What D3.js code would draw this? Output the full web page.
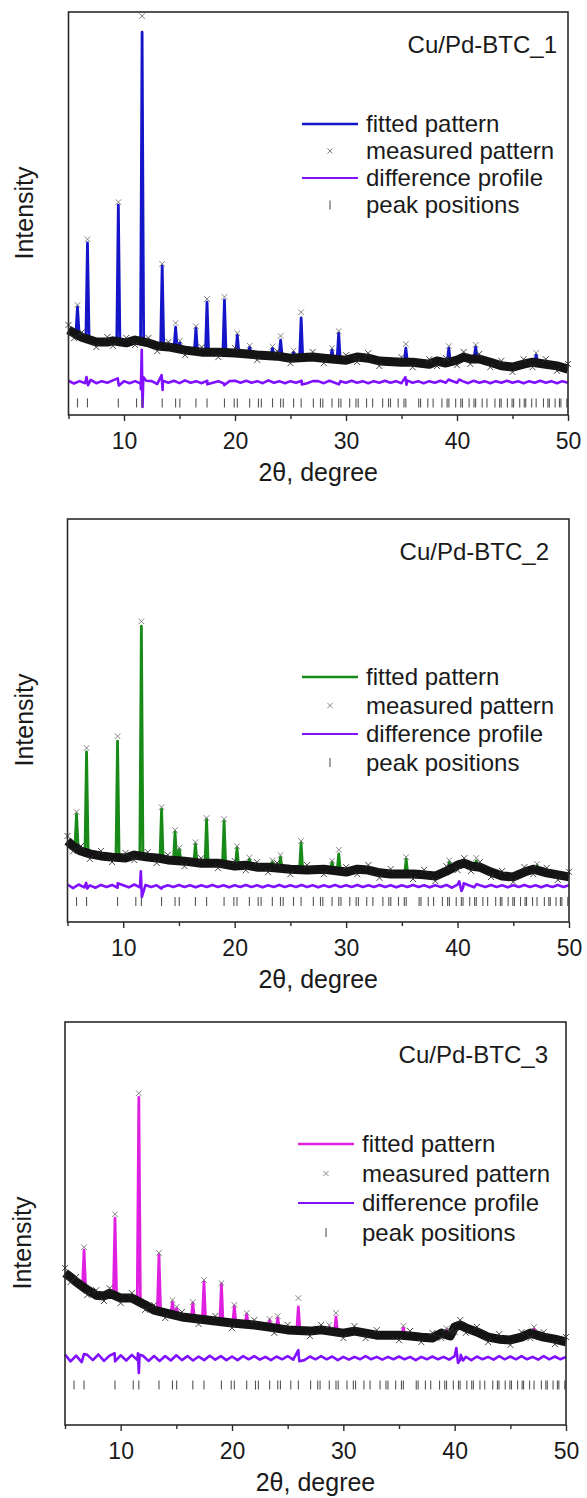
<!DOCTYPE html>
<html>
<head>
<meta charset="utf-8">
<script src="https://cdn.jsdelivr.net/npm/d3@7"></script>
<style>
  body { margin: 0; background: #fff; }
  text { font-family: "Liberation Sans", Arial, sans-serif; fill: #1a1a1a; }
</style>
</head>
<body>
<script>
// ---- data (2theta in degrees, intensity in arbitrary units 0..1000 per panel) ----
var xTicksMajor = [10, 20, 30, 40, 50];
var xTicksMinor = [5, 15, 25, 35, 45];

// calculated reflection positions shown as tick marks
var reflections = [5.81, 6.71, 9.49, 11.13, 11.63, 13.44, 14.65, 15.03, 16.48, 17.48, 19.05, 19.93, 20.21,
  21.32, 22.11, 22.37, 23.38, 24.11, 24.35, 25.28, 25.96, 27.06, 27.70, 27.91, 28.74, 29.34, 29.54,
  30.33, 30.90, 31.10, 31.85, 32.40, 33.30, 33.83, 34.01, 34.70, 35.22, 35.39, 36.55, 36.72, 37.37,
  37.85, 38.64, 39.11, 39.27, 39.88, 40.34, 40.49, 41.09, 41.53, 41.68, 42.27, 42.70, 43.42, 43.84,
  43.98, 44.54, 44.96, 45.10, 45.65, 46.06, 46.19, 46.73, 47.13, 47.79, 48.19, 48.32, 48.84, 49.23,
  49.36, 49.89];

// background of the measured pattern [2theta, I]
var bg1 = [[5.0,211],[5.5,203],[6.2,193],[7.5,181],[8.5,181],[9.0,184],[10.2,179],[11.0,186],[12.2,179],
  [13.0,171],[14.0,169],[15.5,161],[17.0,156],[18.5,156],[20.0,154],[22.0,149],[23.8,146],[25.0,141],
  [27.0,144],[28.0,141],[30.0,136],[31.0,144],[32.0,141],[33.0,134],[35.0,131],[36.0,131],[37.5,126],
  [38.2,134],[39.0,129],[40.0,136],[40.6,144],[41.2,139],[42.0,139],[43.0,131],[44.0,122],[45.0,119],
  [46.0,126],[46.8,131],[48.0,126],[49.0,122],[50.0,114]];
var bg2 = [[5.0,201],[5.5,188],[6.2,176],[7.0,169],[8.0,164],[9.0,161],[10.2,159],[11.0,166],[12.2,161],
  [13.0,159],[14.0,154],[15.5,151],[17.0,146],[18.5,146],[20.0,139],[21.0,141],[22.0,136],[23.0,136],
  [23.8,134],[25.0,131],[26.5,129],[28.0,131],[30.0,124],[31.0,131],[32.0,129],[33.0,122],[34.0,119],
  [36.0,119],[37.0,117],[38.0,114],[39.0,126],[40.0,141],[40.6,146],[41.2,139],[42.0,136],[43.0,124],
  [44.0,114],[45.0,112],[46.0,124],[46.8,131],[48.0,122],[49.0,117],[50.0,112]];
var bg3 = [[5.0,377],[5.5,367],[6.0,355],[7.0,335],[7.8,322],[8.5,320],[9.0,327],[10.0,315],[11.0,315],
  [12.2,298],[13.0,285],[14.0,278],[15.5,268],[17.0,263],[18.5,258],[20.0,253],[22.0,248],[23.8,241],
  [25.0,236],[27.0,233],[28.0,236],[30.0,228],[31.0,233],[32.0,228],[33.0,223],[35.0,223],[36.0,221],
  [37.0,218],[38.0,216],[38.8,228],[39.6,221],[40.0,243],[40.5,248],[41.0,241],[42.0,231],[43.0,218],
  [44.0,213],[45.0,211],[46.0,218],[46.8,228],[48.0,218],[49.0,213],[50.0,206]];

// peaks [2theta, base, fitted top, measured top]
var peaks1 = [[5.81,203,268,273],[6.71,193,427,436],[9.49,183,521,528],[11.63,182,950,990],[13.44,171,370,375],
  [14.65,166,218,228],[15.03,163,179,184],[16.48,158,216,220],[17.48,156,280,288],[19.05,155,285,293],
  [20.21,153,198,203],[21.32,150,169,172],[23.38,147,166,170],[24.11,146,186,196],[25.28,142,156,160],
  [25.96,142,241,255],[28.74,140,161,166],[29.34,138,203,208],[35.39,131,166,176],[39.26,130,166,171],
  [41.68,139,169,174],[47.13,131,149,154]];
var peaks2 = [[5.81,188,268,273],[6.71,176,422,432],[9.49,161,449,461],[11.63,163,734,746],[13.44,159,280,285],
  [14.65,154,223,228],[15.03,152,181,184],[16.48,148,193,198],[17.48,146,255,258],[19.05,145,250,255],
  [20.21,139,184,188],[21.32,140,156,160],[23.38,136,149,153],[24.11,134,161,166],[25.96,130,196,201],
  [28.74,131,149,152],[29.34,128,169,179],[35.39,119,156,161],[39.26,128,149,153],[41.68,138,151,159],
  [47.13,131,141,144]];
var peaks3 = [[6.71,340,434,441],[9.49,322,513,523],[11.63,308,813,823],[13.44,287,422,427],[14.65,275,305,310],
  [15.03,272,290,293],[16.48,265,303,305],[17.48,262,355,360],[19.05,257,350,352],[20.21,253,295,298],
  [21.32,250,275,278],[23.38,243,260,263],[24.11,240,265,270],[25.96,236,293,315],[28.74,235,243,248],
  [29.34,230,268,278],[35.39,223,241,246],[39.26,225,236,240],[47.13,228,238,243]];

// difference profile: offset, values every 0.5 deg from 5 to 50, plus spikes [2theta, value]
var diffStart = 5, diffStep = 0.5;
var diffOffsets = [82, 89, 166];
var diff1 = [3,-4,2,-3,5,-3,2,-2,4,-4, 2,-3,2,-4,3,2,-5,3,-2,3, -3,4,-2,2,-3,3,-2,2,-4,2,
  3,-2,3,-2,2,-3,4,-2,2,-3, 2,-2,3,-3,2,2,-3,3,-2,2, -2,3,-2,2,-3,2,-2,3,-2,2,
  -3,4,-2,2,-3,2,-2,3,-2,3, -2,2,-3,3,-2,2,-3,2,-2,3, -2,2,-3,2,-2,3,-2,2,-3,2, -2];
var diff2 = [4,-5,4,-3,2,-4,3,-2,3,-4, 2,-3,4,-3,3,-2,2,-3,2,-2, 3,-2,2,-3,2,-2,3,-2,2,-3,
  2,-2,3,-2,2,-3,2,-2,3,-2, 2,-2,3,-2,2,-3,2,-2,3,-2, 2,-2,3,-2,2,-2,3,-2,2,-3,
  2,-2,3,-2,2,-3,2,-2,3,-4, 4,-3,2,-3,2,-2,3,-2,2,-3, 2,-2,3,-2,2,-3,2,-2,3,-2, 2];
var diff3 = [9,-8,6,-10,8,-5,9,-7,6,-8, 7,-6,8,-5,6,-7,5,-7,5,-6, 7,-5,5,-6,4,-5,6,-4,5,-5,
  4,-5,5,-3,5,-4,3,-5,4,-3, 5,-4,3,-5,4,-3,5,-3,4,-5, 3,-4,3,-3,5,-3,3,-4,3,-3,
  4,-3,3,-5,3,-3,4,-3,3,-4, 5,-4,3,-5,4,-3,3,-4,5,-3, 4,-3,5,-3,3,-4,5,-3,4,-3, 3];
var spikes1 = [[6.62,12],[6.76,-8],[9.44,9],[9.54,-9],[11.52,-18],[11.6,80],[11.67,-62],[11.74,12],
  [13.39,17],[13.48,-20],[17.5,-6],[19.02,-8],[26.02,-6],[29.36,-6],[35.35,12],[35.45,-7],[39.24,6],[40.2,6]];
var spikes2 = [[6.68,8],[6.76,-6],[9.5,7],[11.58,37],[11.67,-27],[13.44,-6],[40.15,12],[40.35,-12],[40.55,7],[41.7,5]];
var spikes3 = [[6.7,10],[9.46,12],[11.55,12],[11.63,-37],[11.7,8],[25.96,20],[26.06,-8],[40.15,25],[40.3,-12],
  [40.55,8],[40.75,-6]];

var sampleNames = ["Cu/Pd-BTC_1", "Cu/Pd-BTC_2", "Cu/Pd-BTC_3"];
var legendLabels = ["fitted pattern", "measured pattern", "difference profile", "peak positions"];

// ---- layout / styles ----
var fitColors = ["#1414c8", "#188a18", "#e020e0"];
var diffColor = "#8010ff";
var peakHalfWidth = 0.14;

var panels = [
  {top: 12, left: 68.5, right: 568, tickRow: 30, legendY: 124, legendGap: 27, lineX: 302, titleRight: 557, labelX: 33, labelY: 213,
   bg: bg1, peaks: peaks1, diff: diff1, spikes: spikes1},
  {top: 519, left: 67.5, right: 569, tickRow: 51, legendY: 677, legendGap: 28.5, lineX: 302, titleRight: 549, labelX: 33, labelY: 720,
   bg: bg2, peaks: peaks2, diff: diff2, spikes: spikes2},
  {top: 1022, left: 65, right: 566, tickRow: 99, legendY: 1144, legendGap: 29.5, lineX: 298, titleRight: 548, labelX: 31, labelY: 1243,
   bg: bg3, peaks: peaks3, diff: diff3, spikes: spikes3}
];
var panelH = 403;

var svg = d3.select("body").append("svg")
              .attr("width", 587)
              .attr("height", 1498);

var cross = function(s){
  return "M" + (-s) + "," + (-s) + "L" + s + "," + s + "M" + (-s) + "," + s + "L" + s + "," + (-s);
};
var byX = function(a, b){ return a[0] - b[0]; };

panels.forEach(function(p, pi){
  var bottom = p.top + panelH;
  var x = d3.scaleLinear().domain([5, 50]).range([p.left, p.right]);
  var y = d3.scaleLinear().domain([0, 1000]).range([bottom, p.top]);
  var line = d3.line().x(function(d){ return x(d[0]); }).y(function(d){ return y(d[1]); });
  var g = svg.append("g").attr("class", "panel" + (pi + 1));

  //fitted pattern: background plus narrow peaks
  var fitPts = p.bg.slice();
  p.peaks.forEach(function(k){
    fitPts.push([k[0] - peakHalfWidth, k[1]], [k[0], k[2]], [k[0] + peakHalfWidth, k[1]]);
  });
  fitPts.sort(byX);
  g.append("path")
      .attr("d", line(fitPts))
      .attr("fill", "none")
      .attr("stroke", fitColors[pi])
      .attr("stroke-width", 2.8)
      .attr("stroke-linejoin", "round");

  //measured pattern: dense crosses appear as a dark band
  g.append("path")
      .attr("d", line(p.bg))
      .attr("fill", "none")
      .attr("stroke", "#141414")
      .attr("stroke-width", 9)
      .attr("stroke-linejoin", "round")
      .attr("stroke-linecap", "butt");
  g.selectAll(".bgx").data(p.bg).enter().append("path")
      .attr("d", cross(3))
      .attr("transform", function(d, i){ return "translate(" + x(d[0]) + "," + (y(d[1]) + (i % 2 ? 5 : -5)) + ")"; })
      .attr("stroke", "#333").attr("stroke-width", 0.9);
  g.selectAll(".topx").data(p.peaks).enter().append("path")
      .attr("d", cross(2.8))
      .attr("transform", function(d){ return "translate(" + x(d[0]) + "," + y(d[3]) + ")"; })
      .attr("stroke", "#777").attr("stroke-width", 0.9);

  //difference profile
  var off = diffOffsets[pi];
  var dPts = p.diff.map(function(v, i){ return [diffStart + i * diffStep, off + v]; });
  p.spikes.forEach(function(s){ dPts.push([s[0], off + s[1]]); });
  dPts.sort(byX);
  g.append("path")
      .attr("d", line(dPts))
      .attr("fill", "none")
      .attr("stroke", diffColor)
      .attr("stroke-width", 2.6)
      .attr("stroke-linejoin", "round");

  //reflection ticks
  g.selectAll(".refl").data(reflections).enter().append("line")
      .attr("x1", function(d){ return x(d); }).attr("x2", function(d){ return x(d); })
      .attr("y1", y(p.tickRow) - 4.5).attr("y2", y(p.tickRow) + 4.5)
      .attr("stroke", "#555").attr("stroke-width", 1.1);

  //frame
  g.append("rect")
      .attr("x", x(5)).attr("y", p.top)
      .attr("width", x(50) - x(5)).attr("height", panelH)
      .attr("fill", "none").attr("stroke", "#2a2a2a").attr("stroke-width", 1.6);

  //axes
  var axMajor = g.append("g").attr("transform", "translate(0," + bottom + ")")
      .call(d3.axisBottom(x).tickValues(xTicksMajor).tickSize(6).tickFormat(d3.format("d")));
  axMajor.select(".domain").remove();
  axMajor.selectAll("line").attr("stroke", "#2a2a2a").attr("stroke-width", 1.4);
  axMajor.selectAll("text")
      .attr("y", 34).attr("dy", null)
      .attr("font-family", "Liberation Sans, Arial, sans-serif")
      .attr("font-size", 23).attr("fill", "#1a1a1a");
  var axMinor = g.append("g").attr("transform", "translate(0," + bottom + ")")
      .call(d3.axisBottom(x).tickValues(xTicksMinor).tickSize(4).tickFormat(""));
  axMinor.select(".domain").remove();
  axMinor.selectAll("line").attr("stroke", "#2a2a2a").attr("stroke-width", 1.4);

  g.append("text")
      .attr("x", (x(5) + x(50)) / 2).attr("y", bottom + 66)
      .attr("text-anchor", "middle").attr("font-size", 25)
      .text("2\u03b8, degree");
  g.append("text")
      .attr("transform", "translate(" + p.labelX + "," + p.labelY + ") rotate(-90)")
      .attr("text-anchor", "middle").attr("font-size", 25)
      .text("Intensity");

  //sample name
  g.append("text")
      .attr("x", p.titleRight).attr("y", p.top + 41)
      .attr("text-anchor", "end").attr("font-size", 24)
      .text(sampleNames[pi]);

  //legend
  var ly = function(i){ return p.legendY + i * p.legendGap; };
  var mid = p.lineX + 28;
  g.append("line").attr("x1", p.lineX).attr("x2", p.lineX + 56).attr("y1", ly(0)).attr("y2", ly(0))
      .attr("stroke", fitColors[pi]).attr("stroke-width", 2.4);
  g.append("path").attr("d", cross(2.6)).attr("transform", "translate(" + mid + "," + ly(1) + ")")
      .attr("stroke", "#777").attr("stroke-width", 0.9);
  g.append("line").attr("x1", p.lineX).attr("x2", p.lineX + 56).attr("y1", ly(2)).attr("y2", ly(2))
      .attr("stroke", diffColor).attr("stroke-width", 2);
  g.append("line").attr("x1", mid).attr("x2", mid).attr("y1", ly(3) - 4.5).attr("y2", ly(3) + 4.5)
      .attr("stroke", "#555").attr("stroke-width", 1.1);
  g.selectAll(".lgt").data(legendLabels).enter().append("text")
      .attr("x", p.lineX + 64)
      .attr("y", function(d, i){ return ly(i) + 8; })
      .attr("font-size", 24)
      .text(function(d){ return d; });
});
</script>
</body>
</html>
